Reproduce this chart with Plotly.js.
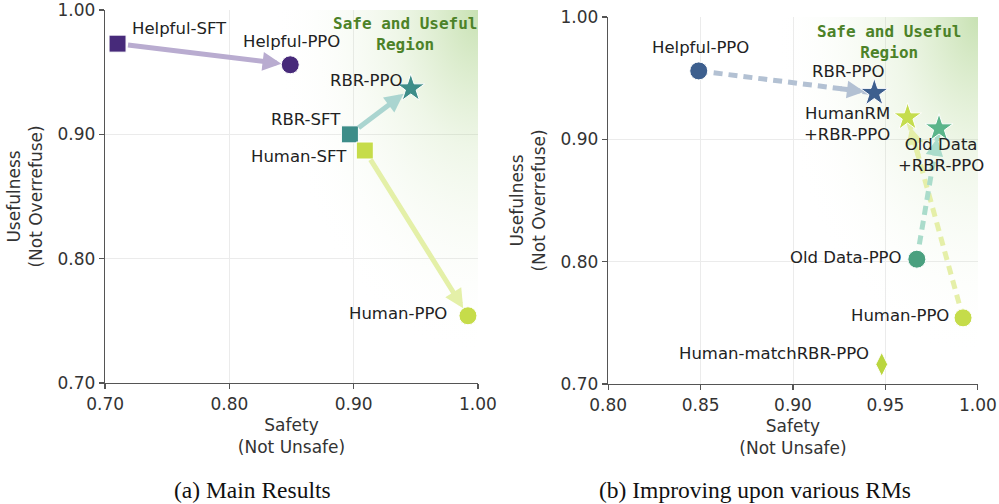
<!DOCTYPE html>
<html><head><meta charset="utf-8">
<script src="https://cdn.plot.ly/plotly-3.0.1.min.js"></script>
<style>html,body{margin:0;padding:0;background:#fff}#chart{width:999px;height:504px}</style>
</head><body><div id="chart"></div>
<script>
// ---------- data: (a) Main Results ----------
const leftNames  = ['Helpful-SFT', 'Helpful-PPO', 'RBR-SFT', 'RBR-PPO', 'Human-SFT', 'Human-PPO'];
const leftSafety = [0.710, 0.849, 0.897, 0.946, 0.909, 0.992];
const leftUseful = [0.973, 0.956, 0.900, 0.937, 0.887, 0.754];
const leftArrows = [[0, 1], [2, 3], [4, 5]];           // from -> to (indices)
const leftXTicks = [0.70, 0.80, 0.90, 1.00];
const leftYTicks = [0.70, 0.80, 0.90, 1.00];

// ---------- data: (b) Improving upon various RMs ----------
const rightNames  = ['Helpful-PPO', 'RBR-PPO', 'HumanRM<br>+RBR-PPO', 'Old Data<br>+RBR-PPO', 'Old Data-PPO', 'Human-PPO', 'Human-matchRBR-PPO'];
const rightSafety = [0.849, 0.944, 0.962, 0.979, 0.967, 0.992, 0.948];
const rightUseful = [0.956, 0.938, 0.918, 0.909, 0.802, 0.754, 0.716];
const rightArrows = [[0, 1], [5, 2], [4, 3]];
const rightXTicks = [0.80, 0.85, 0.90, 0.95, 1.00];
const rightYTicks = [0.70, 0.80, 0.90, 1.00];

const regionText = 'Safe and Useful<br>Region';
const captionA = '(a) Main Results';
const captionB = '(b) Improving upon various RMs';
const xTitle = 'Safety<br>(Not Unsafe)';
const yTitle = 'Usefulness<br>(Not Overrefuse)';

// ---------- styles ----------
const leftStyle = [
  {sym: 'square', color: '#472a7a', size: 17},
  {sym: 'circle', color: '#472a7a', size: 18},
  {sym: 'square', color: '#3d8d89', size: 17},
  {sym: 'star',   color: '#3d8d89', size: 21},
  {sym: 'square', color: '#c6dc4a', size: 17},
  {sym: 'circle', color: '#c6dc4a', size: 18}
];
const leftArrowColors = ['#b9acd0', '#aad5d0', '#e4f0a8'];
const leftLabel = [
  {xa: 'left',   xs: 12,  ys: 15},
  {xa: 'center', xs: 1,   ys: 23},
  {xa: 'right',  xs: -7,  ys: 15},
  {xa: 'right',  xs: -7,  ys: 8},
  {xa: 'right',  xs: -16, ys: -6},
  {xa: 'right',  xs: -19, ys: 2}
];
const rightStyle = [
  {sym: 'circle', color: '#3d5f8e', size: 18},
  {sym: 'star',   color: '#3d5f8e', size: 21},
  {sym: 'star',   color: '#c5dd4e', size: 21},
  {sym: 'star',   color: '#5ab58a', size: 21},
  {sym: 'circle', color: '#4aa07f', size: 18},
  {sym: 'circle', color: '#c5dc4a', size: 18},
  {sym: 'diamond-tall', color: '#bad63f', size: 17}
];
const rightArrowColors = ['#b3c1d3', '#e5efa8', '#aadccb'];
const rightLabel = [
  {xa: 'center', xs: 2,   ys: 23},
  {xa: 'center', xs: -26, ys: 21},
  {xa: 'right',  xs: -16, ys: -7},
  {xa: 'center', xs: 2,   ys: -27},
  {xa: 'right',  xs: -13, ys: 2},
  {xa: 'right',  xs: -12, ys: 2},
  {xa: 'right',  xs: -11, ys: 11}
];

const FONT = 'DejaVu Sans';
const traces = [];
const annotations = [];

function region(xa, ya, hx, hy) {
  traces.push({
    x: [1 - hx, 1 + hx, 1 + hx, 1 - hx, 1 - hx],
    y: [1 - hy, 1 - hy, 1 + hy, 1 + hy, 1 - hy],
    xaxis: xa, yaxis: ya, mode: 'lines', line: {width: 0},
    fill: 'toself',
    fillgradient: {type: 'radial', colorscale: [[0, 'rgba(125,185,75,0.42)'], [0.4, 'rgba(160,205,120,0.17)'], [1, 'rgba(255,255,255,0)']]},
    hoverinfo: 'skip', showlegend: false
  });
}
region('x', 'y', 0.165, 0.28);
region('x2', 'y2', 0.11, 0.28);

// dashed shafts for panel (b)
rightArrows.forEach(([a, b], i) => {
  traces.push({
    x: [rightSafety[a], rightSafety[b]], y: [rightUseful[a], rightUseful[b]],
    xaxis: 'x2', yaxis: 'y2', mode: 'lines',
    line: {color: rightArrowColors[i], width: 5, dash: '9px,6px'},
    hoverinfo: 'skip', showlegend: false
  });
});

function markers(names, xs, ys, styles, xa, ya) {
  names.forEach((n, i) => {
    traces.push({
      x: [xs[i]], y: [ys[i]], xaxis: xa, yaxis: ya, mode: 'markers', name: n,
      marker: {symbol: styles[i].sym, color: styles[i].color, size: styles[i].size, line: {color: 'white', width: 1}},
      cliponaxis: false, showlegend: false, hoverinfo: 'skip'
    });
  });
}
markers(leftNames, leftSafety, leftUseful, leftStyle, 'x', 'y');
markers(rightNames, rightSafety, rightUseful, rightStyle, 'x2', 'y2');

// arrows panel (a)
leftArrows.forEach(([a, b], i) => {
  annotations.push({
    x: leftSafety[b], y: leftUseful[b], ax: leftSafety[a], ay: leftUseful[a],
    xref: 'x', yref: 'y', axref: 'x', ayref: 'y', text: '', showarrow: true,
    arrowhead: 2, arrowsize: 0.75, arrowwidth: 5, arrowcolor: leftArrowColors[i],
    standoff: 9, startstandoff: 9
  });
});
// arrow heads panel (b)
rightArrows.forEach(([a, b], i) => {
  const f = 0.2;
  annotations.push({
    x: rightSafety[b], y: rightUseful[b],
    ax: rightSafety[b] - f * (rightSafety[b] - rightSafety[a]),
    ay: rightUseful[b] - f * (rightUseful[b] - rightUseful[a]),
    xref: 'x2', yref: 'y2', axref: 'x2', ayref: 'y2', text: '', showarrow: true,
    arrowhead: 2, arrowsize: 0.7, arrowwidth: 5, arrowcolor: rightArrowColors[i],
    standoff: 10
  });
});

function labels(names, xs, ys, lab, xr, yr) {
  names.forEach((n, i) => {
    annotations.push({
      x: xs[i], y: ys[i], xref: xr, yref: yr, text: n, showarrow: false,
      xanchor: lab[i].xa, yanchor: 'middle', xshift: lab[i].xs, yshift: lab[i].ys,
      align: lab[i].xa === 'center' ? 'center' : 'right',
      font: {family: FONT, size: 16.5, color: '#222'}
    });
  });
}
labels(leftNames, leftSafety, leftUseful, leftLabel, 'x', 'y');
labels(rightNames, rightSafety, rightUseful, rightLabel, 'x2', 'y2');

// region titles
const regionFont = {family: 'DejaVu Sans Mono', size: 16, color: '#4c8228', weight: 'bold'};
annotations.push({xref: 'x domain', yref: 'y domain', x: 0.805, y: 0.935, xanchor: 'center', yanchor: 'middle',
  text: regionText, showarrow: false, font: regionFont, align: 'center'});
annotations.push({xref: 'x2 domain', yref: 'y2 domain', x: 0.762, y: 0.932, xanchor: 'center', yanchor: 'middle',
  text: regionText, showarrow: false, font: regionFont, align: 'center'});

// captions
annotations.push({xref: 'paper', yref: 'paper', x: 0.2523, y: 0.027, xanchor: 'center', yanchor: 'middle',
  text: captionA, showarrow: false, font: {family: 'Liberation Serif', size: 23.5, color: '#111'}});
annotations.push({xref: 'paper', yref: 'paper', x: 0.7558, y: 0.027, xanchor: 'center', yanchor: 'middle',
  text: captionB, showarrow: false, font: {family: 'Liberation Serif', size: 23.5, color: '#111'}});

const axisBase = {
  showline: true, linecolor: '#555', linewidth: 1.3, ticks: 'outside', ticklen: 5, tickwidth: 1.3, tickcolor: '#555',
  showgrid: true, gridcolor: '#ebebeb', gridwidth: 1, zeroline: false, tickformat: '.2f',
  tickfont: {family: FONT, size: 17, color: '#333'}, fixedrange: true
};
const xTitleObj = {text: xTitle, font: {family: FONT, size: 17, color: '#333'}, standoff: 6};
const yTitleObj = {text: yTitle, font: {family: FONT, size: 17, color: '#333'}, standoff: 10};

const layout = {
  width: 999, height: 504, margin: {l: 0, r: 0, t: 0, b: 0},
  paper_bgcolor: '#fff', plot_bgcolor: '#fff', showlegend: false,
  xaxis: Object.assign({}, axisBase, {domain: [0.1051, 0.4785], range: [0.6999, 1.0001], tickvals: leftXTicks, anchor: 'y', title: xTitleObj}),
  yaxis: Object.assign({}, axisBase, {domain: [0.2401, 0.9802], range: [0.6999, 1.0001], tickvals: leftYTicks, anchor: 'x', title: yTitleObj}),
  xaxis2: Object.assign({}, axisBase, {domain: [0.6086, 0.9790], range: [0.7999, 1.0001], tickvals: rightXTicks, anchor: 'y2', title: xTitleObj}),
  yaxis2: Object.assign({}, axisBase, {domain: [0.2381, 0.9663], range: [0.6999, 1.0001], tickvals: rightYTicks, anchor: 'x2', title: yTitleObj}),
  annotations: annotations
};

Plotly.newPlot('chart', traces, layout, {staticPlot: true, displayModeBar: false});
</script>
</body></html>
